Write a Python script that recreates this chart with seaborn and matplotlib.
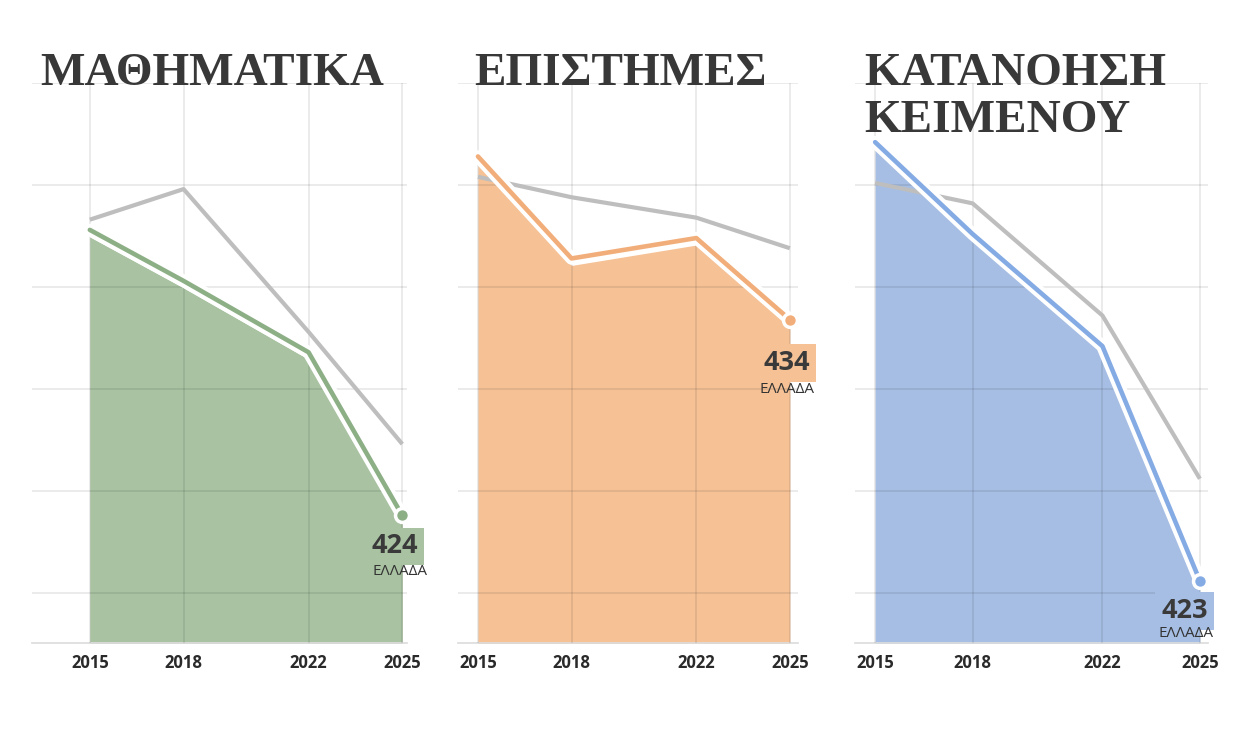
import matplotlib
matplotlib.use("Agg")
import matplotlib.pyplot as plt
import matplotlib.patheffects as pe
import matplotlib.transforms as mtransforms
import seaborn as sns

# PISA-style scores, Greece vs. OECD average
years = [2015, 2018, 2022, 2025]
titles = [["ΜΑΘΗΜΑΤΙΚΑ"], ["ΕΠΙΣΤΗΜΕΣ"], ["ΚΑΤΑΝΟΗΣΗ", "ΚΕΙΜΕΝΟΥ"]]
greece_math = [452, 447, 440, 424]
oecd_math = [453, 456, 442, 431]
greece_science = [450, 440, 442, 434]
oecd_science = [448, 446, 444, 441]
greece_reading = [466, 457, 446, 423]
oecd_reading = [462, 460, 449, 433]
country_label = "ΕΛΛΑΔΑ"

W, H, DPI = 1259, 756, 100
TOP, BOTTOM = 83, 643  # pixel rows of the plot area

panels = [
    dict(greece=greece_math, oecd=oecd_math, px=(32, 407), xlim=(2013.15, 2025.15),
         ylim=(411.5, 466.4), fill="#a9c3a2", line="#8daf86", title_x=40,
         off=(16, -38, 25, -60)),
    dict(greece=greece_science, oecd=oecd_science, px=(458, 798), xlim=(2014.36, 2025.26),
         ylim=(402.3, 457.2), fill="#f5c195", line="#f2ae7a", title_x=474,
         off=(20, -50, 25, -73)),
    dict(greece=greece_reading, oecd=oecd_reading, px=(855, 1208), xlim=(2014.38, 2025.25),
         ylim=(416.9, 471.8), fill="#a6bee4", line="#85abe4", title_x=864,
         off=(8, -37, 14, -56)),
]

sns.set_theme(style="white")
plt.rcParams["font.family"] = ["Open Sans", "DejaVu Sans"]

fig = plt.figure(figsize=(W / DPI, H / DPI), dpi=DPI)
fig.patch.set_facecolor("white")

for p, title in zip(panels, titles):
    x0, x1 = p["px"]
    ax = fig.add_axes([x0 / W, (H - BOTTOM) / H, (x1 - x0) / W, (BOTTOM - TOP) / H])
    ax.set_xlim(*p["xlim"])
    ax.set_ylim(*p["ylim"])
    lo, hi = p["ylim"]

    # area under the Greece series, nudged down to leave a white gap under the line
    fill = ax.fill_between(years, p["greece"], lo, color=p["fill"], lw=0, zorder=1)
    fill.set_transform(ax.transData + mtransforms.ScaledTranslation(0, -7 / DPI, fig.dpi_scale_trans))

    sns.lineplot(x=years, y=p["oecd"], ax=ax, color="#bebebe", linewidth=3.0,
                 zorder=3, solid_capstyle="butt")
    sns.lineplot(x=years, y=p["greece"], ax=ax, color=p["line"], linewidth=3.3,
                 zorder=4, solid_capstyle="round", solid_joinstyle="round",
                 path_effects=[pe.Stroke(linewidth=9.0, foreground="white"), pe.Normal()])
    ax.plot(years[-1], p["greece"][-1], "o", ms=10, color=p["line"], mec="white",
            mew=2.5, zorder=5)

    dxv, dyv, dxl, dyl = p["off"]
    ax.annotate(str(p["greece"][-1]), xy=(years[-1], p["greece"][-1]), xytext=(dxv, dyv),
                textcoords="offset pixels", ha="right", va="baseline", fontsize=19.5,
                fontweight="bold", color="#3a3a3a", zorder=6,
                bbox=dict(boxstyle="square,pad=0.22", fc=p["fill"], ec="none"))
    ax.annotate(country_label, xy=(years[-1], p["greece"][-1]), xytext=(dxl, dyl),
                textcoords="offset pixels", ha="right", va="baseline", fontsize=11,
                color="#333333", zorder=6)

    # grid
    ax.set_yticks([hi - 10 * k for k in range(6)])
    ax.set_xticks(years)
    ax.set_axisbelow(False)
    ax.grid(True, color="black", alpha=0.1, lw=1.1, zorder=2.5)
    ax.set_yticklabels([])
    ax.set_xticklabels([str(y) for y in years], fontsize=12, fontweight="bold",
                       color="#2a2a2a")
    ax.tick_params(length=0, pad=8)
    for side in ["left", "right", "top"]:
        ax.spines[side].set_visible(False)
    ax.spines["bottom"].set_color("#dddddd")
    ax.set_xlabel("")
    ax.set_ylabel("")

    for i, line in enumerate(title):
        fig.text(p["title_x"] / W, (H - 85 - 47 * i) / H, line, ha="left", va="baseline",
                 fontsize=34, fontweight="bold", family=["Liberation Serif", "DejaVu Serif"],
                 color="#383838")

fig.savefig("out.png", dpi=DPI, facecolor="white")
